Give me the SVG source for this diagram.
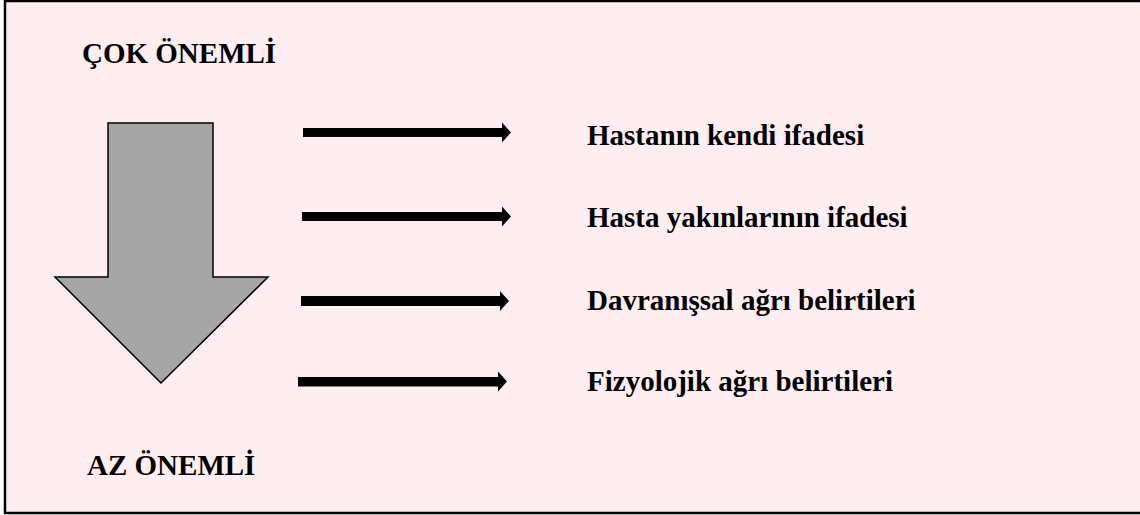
<svg xmlns="http://www.w3.org/2000/svg" width="1140" height="515" viewBox="0 0 1140 515">
<style>
.t{font-family:"Liberation Serif","Times New Roman",serif;font-weight:bold;font-size:29px;fill:#000}
.ha{fill:#000}
</style>
<rect x="0" y="0" width="1140" height="515" fill="#fff"/>
<rect x="5" y="1" width="1150" height="512" fill="#FFEEF1" stroke="#000" stroke-width="2.5"/>
<g id="top-label"><text class="t" x="82" y="63">ÇOK ÖNEMLİ</text></g>
<g id="bottom-label"><text class="t" x="87" y="475">AZ ÖNEMLİ</text></g>
<g id="down-arrow"><polygon points="108,123 213,123 213,277 268,277 161,383 55,277 108,277" fill="#A6A6A6" stroke="#000" stroke-width="1.5" stroke-linejoin="miter"/></g>
<g id="connectors">
<polygon class="ha" points="303,128 502,128 502,122.5 511,132.5 502,142.5 502,137 303,137"/>
<polygon class="ha" points="302,212 502,212 502,206.5 511,216.5 502,226.5 502,221 302,221"/>
<polygon class="ha" points="301,296 500,296 500,291 509,301 500,311 500,306 301,306"/>
<polygon class="ha" points="298,377 498,377 498,371.5 507,381.5 498,391.5 498,386.5 298,386.5"/>
</g>
<g id="label1"><text class="t" x="587" y="145">Hastanın kendi ifadesi</text></g>
<g id="label2"><text class="t" x="587" y="227">Hasta yakınlarının ifadesi</text></g>
<g id="label3"><text class="t" x="587" y="310">Davranışsal ağrı belirtileri</text></g>
<g id="label4"><text class="t" x="587" y="391">Fizyolojik ağrı belirtileri</text></g>
</svg>
